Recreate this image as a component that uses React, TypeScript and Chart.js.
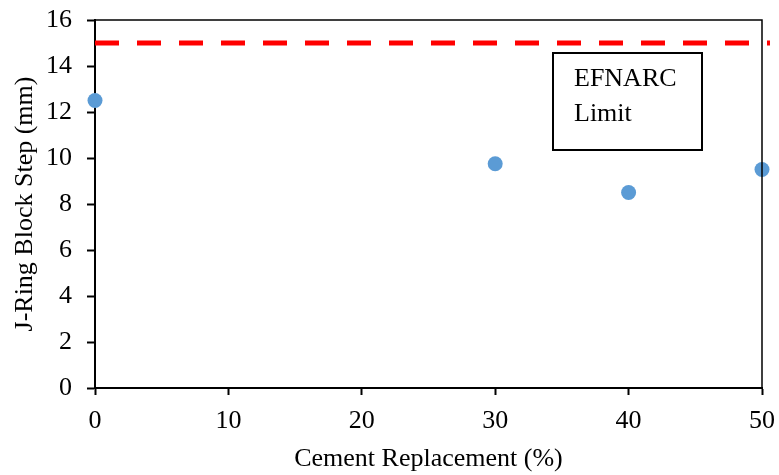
import React, { useEffect, useRef } from "react";
import { Chart, registerables } from "chart.js";

Chart.register(...registerables);

const replacement = [0, 30, 40, 50];
const blockStep = [12.5, 9.75, 8.5, 9.5];
const limitX = [0, 50.6];
const limitY = [15, 15];
const xTicks = [0, 10, 20, 30, 40, 50];
const yTicks = [0, 2, 4, 6, 8, 10, 12, 14, 16];
const annotationLines = ["EFNARC", "Limit"];

const FONT = "'Liberation Serif', 'Times New Roman', serif";
const FS = 26;

const framePlugin = {
  id: "frame",
  afterDraw(chart: any) {
    const { ctx, chartArea } = chart;
    ctx.save();
    ctx.strokeStyle = "#000";
    ctx.lineWidth = 1.5;
    ctx.beginPath();
    ctx.moveTo(chartArea.left, chartArea.top);
    ctx.lineTo(chartArea.right, chartArea.top);
    ctx.lineTo(chartArea.right, chartArea.bottom);
    ctx.stroke();
    // annotation box
    const bx = 553;
    const by = 53;
    const bw = 149;
    const bh = 97;
    ctx.fillStyle = "#fff";
    ctx.fillRect(bx, by, bw, bh);
    ctx.lineWidth = 2;
    ctx.strokeRect(bx, by, bw, bh);
    ctx.fillStyle = "#000";
    ctx.font = `${FS}px ${FONT}`;
    ctx.textBaseline = "middle";
    ctx.textAlign = "left";
    annotationLines.forEach((t, i) => {
      ctx.fillText(t, bx + 21, by + 26 + i * 35);
    });
    ctx.restore();
  },
};

export default function App() {
  const ref = useRef<HTMLCanvasElement>(null);
  useEffect(() => {
    document.body.style.margin = "0";
    const chart = new Chart(ref.current!, {
      type: "scatter",
      data: {
        datasets: [
          {
            type: "line",
            data: limitX.map((x, i) => ({ x, y: limitY[i] })),
            borderColor: "#FF0000",
            borderWidth: 5,
            borderDash: [24, 18],
            borderCapStyle: "butt",
            pointRadius: 0,
            clip: false as any,
            order: 2,
          } as any,
          {
            data: replacement.map((x, i) => ({ x, y: blockStep[i] })),
            backgroundColor: "#5B9BD5",
            borderColor: "#5B9BD5",
            pointRadius: 7.5,
            pointHoverRadius: 7.5,
            borderWidth: 0,
            clip: false as any,
            order: 1,
          },
        ],
      },
      options: {
        animation: false,
        responsive: false,
        maintainAspectRatio: false,
        layout: { padding: { left: 0, top: 20, right: 17, bottom: 0 } },
        plugins: { legend: { display: false }, tooltip: { enabled: false } },
        scales: {
          x: {
            type: "linear",
            min: 0,
            max: 50,
            afterBuildTicks: (s: any) => {
              s.ticks = xTicks.map((v) => ({ value: v }));
            },
            afterFit: (s: any) => {
              s.height = 87;
              s.paddingLeft = 0;
              s.paddingRight = 0;
            },
            border: { color: "#000", width: 2 },
            grid: {
              drawOnChartArea: false,
              drawTicks: true,
              tickLength: 7,
              tickColor: "#000",
              tickWidth: 2,
            },
            ticks: {
              color: "#000",
              font: { family: FONT, size: FS, lineHeight: 1.2 },
              padding: 11,
              maxRotation: 0,
            },
            title: {
              display: true,
              text: "Cement Replacement (%)",
              color: "#000",
              font: { family: FONT, size: FS, lineHeight: 1.2 },
              padding: { top: 0, bottom: 0 },
            },
          },
          y: {
            type: "linear",
            min: 0,
            max: 16,
            afterBuildTicks: (s: any) => {
              s.ticks = yTicks.map((v) => ({ value: v }));
            },
            afterFit: (s: any) => {
              s.width = 95;
              s.paddingTop = 0;
              s.paddingBottom = 0;
            },
            border: { color: "#000", width: 2 },
            grid: {
              drawOnChartArea: false,
              drawTicks: true,
              tickLength: 8,
              tickColor: "#000",
              tickWidth: 2,
            },
            ticks: {
              color: "#000",
              font: { family: FONT, size: FS, lineHeight: 1.2 },
              padding: 15,
            },
            title: {
              display: true,
              text: "J-Ring Block Step (mm)",
              color: "#000",
              font: { family: FONT, size: FS, lineHeight: 1.2 },
              padding: { top: 10, bottom: 0 },
            },
          },
        },
      },
      plugins: [framePlugin],
    });
    return () => chart.destroy();
  }, []);
  return (
    <div style={{ width: 779, height: 475 }}>
      <canvas ref={ref} width={779} height={475} style={{ display: "block" }} />
    </div>
  );
}
